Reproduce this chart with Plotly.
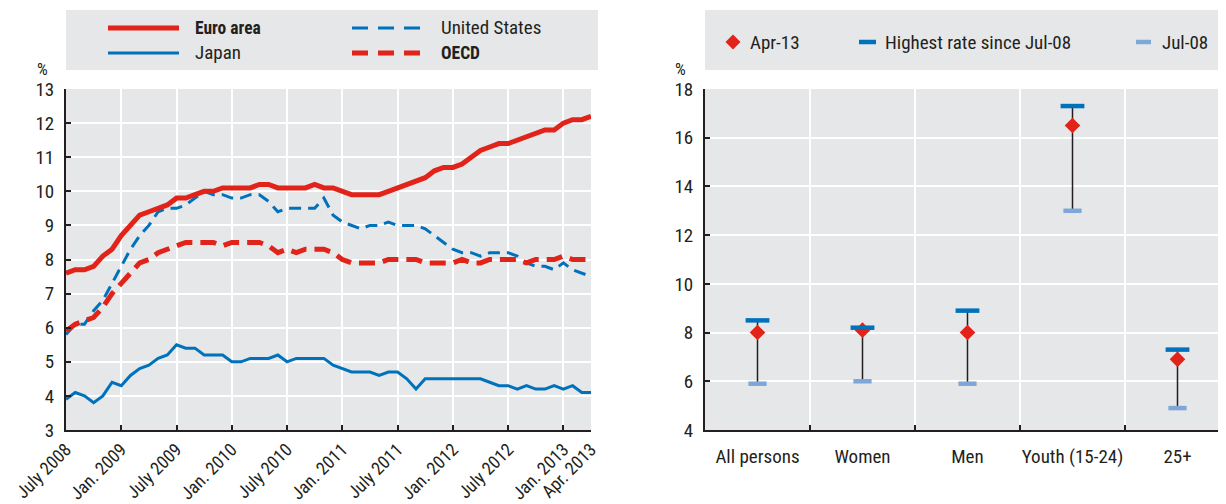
import plotly.graph_objects as go

# the page body adds an 8px margin, so the figure is 8px smaller than the window
W, H = 1218, 496
OFF = 8
FONT = "Liberation Sans Narrow, Arial Narrow, Roboto Condensed, sans-serif"
INK = "#231f20"
GREY = "#e6e7e8"
RED = "#e2231a"
BLUE = "#0072bc"
LIGHT_BLUE = "#7fa6d9"

# Left panel: monthly unemployment rates, July 2008 - April 2013
months = list(range(58))
tick_months = [0, 6, 12, 18, 24, 30, 36, 42, 48, 54, 57]
tick_labels = ["July 2008", "Jan. 2009", "July 2009", "Jan. 2010", "July 2010",
               "Jan. 2011", "July 2011", "Jan. 2012", "July 2012", "Jan. 2013",
               "Apr. 2013"]

euro_area = [7.6, 7.7, 7.7, 7.8, 8.1, 8.3, 8.7, 9.0, 9.3, 9.4,
             9.5, 9.6, 9.8, 9.8, 9.9, 10.0, 10.0, 10.1, 10.1, 10.1,
             10.1, 10.2, 10.2, 10.1, 10.1, 10.1, 10.1, 10.2, 10.1, 10.1,
             10.0, 9.9, 9.9, 9.9, 9.9, 10.0, 10.1, 10.2, 10.3, 10.4,
             10.6, 10.7, 10.7, 10.8, 11.0, 11.2, 11.3, 11.4, 11.4, 11.5,
             11.6, 11.7, 11.8, 11.8, 12.0, 12.1, 12.1, 12.2]
united_states = [5.8, 6.1, 6.1, 6.5, 6.8, 7.3, 7.8, 8.3, 8.7, 9.0,
                 9.4, 9.5, 9.5, 9.6, 9.8, 10.0, 9.9, 9.9, 9.8, 9.8,
                 9.9, 9.9, 9.7, 9.4, 9.5, 9.5, 9.5, 9.5, 9.8, 9.3,
                 9.1, 9.0, 8.9, 9.0, 9.0, 9.1, 9.0, 9.0, 9.0, 8.9,
                 8.7, 8.5, 8.3, 8.2, 8.2, 8.1, 8.2, 8.2, 8.2, 8.1,
                 7.9, 7.8, 7.8, 7.7, 7.9, 7.7, 7.6, 7.5]
japan = [3.9, 4.1, 4.0, 3.8, 4.0, 4.4, 4.3, 4.6, 4.8, 4.9,
         5.1, 5.2, 5.5, 5.4, 5.4, 5.2, 5.2, 5.2, 5.0, 5.0,
         5.1, 5.1, 5.1, 5.2, 5.0, 5.1, 5.1, 5.1, 5.1, 4.9,
         4.8, 4.7, 4.7, 4.7, 4.6, 4.7, 4.7, 4.5, 4.2, 4.5,
         4.5, 4.5, 4.5, 4.5, 4.5, 4.5, 4.4, 4.3, 4.3, 4.2,
         4.3, 4.2, 4.2, 4.3, 4.2, 4.3, 4.1, 4.1]
oecd = [5.9, 6.1, 6.2, 6.3, 6.6, 7.0, 7.3, 7.6, 7.9, 8.0,
        8.2, 8.3, 8.4, 8.5, 8.5, 8.5, 8.5, 8.4, 8.5, 8.5,
        8.5, 8.5, 8.4, 8.2, 8.3, 8.2, 8.3, 8.3, 8.3, 8.2,
        8.0, 7.9, 7.9, 7.9, 7.9, 8.0, 8.0, 8.0, 8.0, 7.9,
        7.9, 7.9, 7.9, 8.0, 7.9, 7.9, 8.0, 8.0, 8.0, 8.0,
        7.9, 8.0, 8.0, 8.0, 8.1, 8.0, 8.0, 8.0]

# Right panel: OECD unemployment by group
groups = ["All persons", "Women", "Men", "Youth (15-24)", "25+"]
apr_13 = [8.0, 8.1, 8.0, 16.5, 6.9]
highest = [8.5, 8.2, 8.9, 17.3, 7.3]
jul_08 = [5.9, 6.0, 5.9, 13.0, 4.9]


def px(x):
    # screen pixel -> paper fraction
    return (x - OFF) / W


def py(y):
    return 1 - (y - OFF) / H


fig = go.Figure()

# left panel lines
fig.add_trace(go.Scatter(x=months, y=japan, mode="lines",
                         line=dict(color=BLUE, width=3)))
fig.add_trace(go.Scatter(x=months, y=united_states, mode="lines",
                         line=dict(color=BLUE, width=3, dash="12px,7px")))
fig.add_trace(go.Scatter(x=months, y=oecd, mode="lines",
                         line=dict(color=RED, width=5, dash="16px,8px")))
fig.add_trace(go.Scatter(x=months, y=euro_area, mode="lines",
                         line=dict(color=RED, width=5)))

# right panel: range line, then markers
rx, ry = [], []
for g, lo, hi in zip(groups, jul_08, highest):
    rx += [g, g, None]
    ry += [lo, hi, None]
fig.add_trace(go.Scatter(x=rx, y=ry, mode="lines", xaxis="x2", yaxis="y2",
                         line=dict(color=INK, width=1.5)))
fig.add_trace(go.Scatter(x=groups, y=jul_08, mode="markers", xaxis="x2", yaxis="y2",
                         marker=dict(symbol="line-ew", size=13,
                                     line=dict(color=LIGHT_BLUE, width=4.5))))
fig.add_trace(go.Scatter(x=groups, y=apr_13, mode="markers", xaxis="x2", yaxis="y2",
                         marker=dict(symbol="diamond", size=12, color=RED,
                                     line=dict(width=0))))
fig.add_trace(go.Scatter(x=groups, y=highest, mode="markers", xaxis="x2", yaxis="y2",
                         marker=dict(symbol="line-ew", size=17,
                                     line=dict(color=BLUE, width=4.5))))

common_axis = dict(showline=True, linecolor=INK, linewidth=2, ticks="inside",
                   ticklen=5, tickwidth=1.5, tickcolor=INK, showgrid=True,
                   gridcolor="white", gridwidth=2, zeroline=False,
                   automargin=False, tickfont=dict(family=FONT, size=19, color=INK))

y_dom = [py(430), py(89)]
fig.update_layout(
    width=W, height=H,
    margin=dict(l=0, r=0, t=0, b=0),
    paper_bgcolor="white",
    plot_bgcolor=GREY,
    showlegend=False,
    font=dict(family=FONT, size=19, color=INK),
    xaxis=dict(common_axis, domain=[px(66), px(591)], range=[0, 57],
               tickmode="array", tickvals=tick_months, ticktext=tick_labels,
               tickangle=-45, ticklabelstandoff=0,
               tickfont=dict(family=FONT, size=18, color=INK)),
    yaxis=dict(common_axis, domain=y_dom, range=[3, 13], dtick=1,
               ticklabelstandoff=6),
    xaxis2=dict(common_axis, domain=[px(705), 1.0], anchor="y2", type="category",
                categoryorder="array", categoryarray=groups,
                range=[-0.5, 4.462], tickson="boundaries", tickangle=0,
                ticklabelstandoff=8),
    yaxis2=dict(common_axis, domain=y_dom, anchor="x2", range=[4, 18], dtick=2,
                ticklabelstandoff=6),
)

shapes = []
annotations = []

# "%" unit labels
for x in (42, 680):
    annotations.append(dict(x=px(x), y=py(69), xref="paper", yref="paper",
                            text="%", showarrow=False, xanchor="center",
                            yanchor="middle", font=dict(size=17)))

# left legend box
shapes.append(dict(type="rect", xref="paper", yref="paper", x0=px(66), x1=px(598),
                   y0=py(70), y1=py(10), fillcolor=GREY, line=dict(width=0),
                   layer="below"))
left_items = [
    (108, 28, RED, 5, "solid", 193, "<b>Euro area</b>", 17.5),
    (108, 53, BLUE, 3, "solid", 193, "Japan", 19),
    (352, 28, BLUE, 3, "16px,10px", 439, "United States", 19),
    (352, 53, RED, 5, "16px,10px", 439, "<b>OECD</b>", 17.5),
]
for x0, y, color, width, dash, tx, label, size in left_items:
    shapes.append(dict(type="line", xref="paper", yref="paper", x0=px(x0),
                       x1=px(x0 + 71), y0=py(y), y1=py(y),
                       line=dict(color=color, width=width, dash=dash)))
    annotations.append(dict(x=px(tx), y=py(y), xref="paper", yref="paper",
                            text=label, showarrow=False, xanchor="left",
                            yanchor="middle", font=dict(size=size)))

# right legend box
shapes.append(dict(type="rect", xref="paper", yref="paper", x0=px(705), x1=1.0,
                   y0=py(70), y1=py(10), fillcolor=GREY, line=dict(width=0),
                   layer="below"))
ly = 42
cx = 733
shapes.append(dict(type="path", xref="paper", yref="paper",
                   path="M {} {} L {} {} L {} {} L {} {} Z".format(
                       px(cx - 7.5), py(ly), px(cx), py(ly - 7.5),
                       px(cx + 7.5), py(ly), px(cx), py(ly + 7.5)),
                   fillcolor=RED, line=dict(width=0)))
shapes.append(dict(type="line", xref="paper", yref="paper", x0=px(859), x1=px(876),
                   y0=py(ly), y1=py(ly), line=dict(color=BLUE, width=4.5)))
shapes.append(dict(type="line", xref="paper", yref="paper", x0=px(1136), x1=px(1151),
                   y0=py(ly), y1=py(ly), line=dict(color=LIGHT_BLUE, width=4.5)))
for x, label in [(748, "Apr-13"), (883, "Highest rate since Jul-08"), (1160, "Jul-08")]:
    annotations.append(dict(x=px(x), y=py(ly), xref="paper", yref="paper",
                            text=label, showarrow=False, xanchor="left",
                            yanchor="middle", font=dict(size=19)))

fig.update_layout(shapes=shapes, annotations=annotations)

fig.write_html("out.html")
